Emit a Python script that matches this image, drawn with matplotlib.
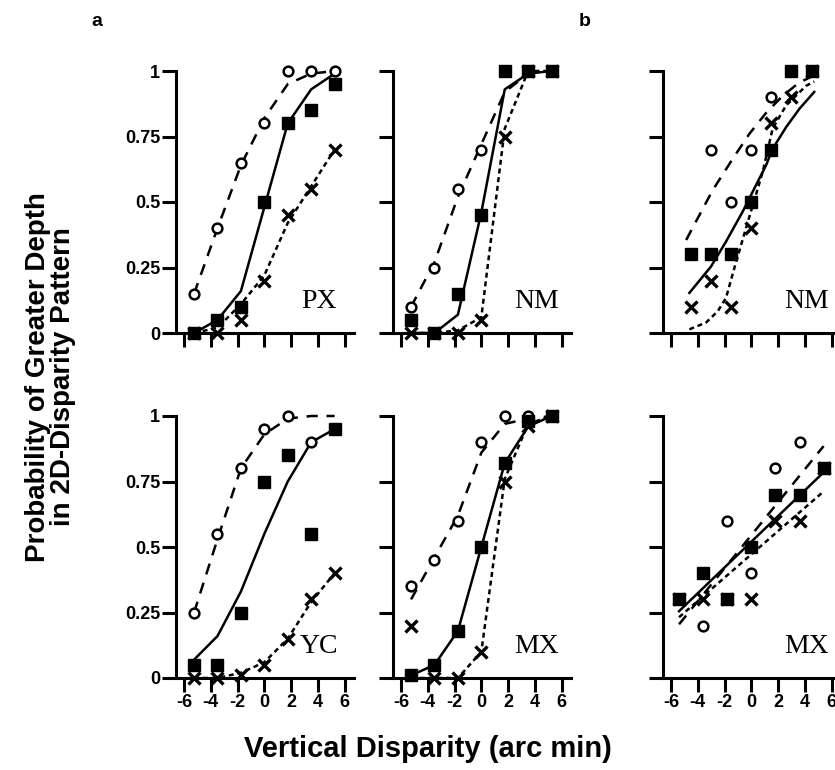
import matplotlib
matplotlib.use("Agg")
import matplotlib.pyplot as plt

plt.rcParams['font.family'] = ['Liberation Sans', 'DejaVu Sans']
plt.rcParams['axes.unicode_minus'] = False

# disparity levels (arc min)
x_a = [-5.25, -3.5, -1.75, 0, 1.75, 3.5, 5.25]
x_b_top = [-4.5, -3, -1.5, 0, 1.5, 3, 4.5]
x_b_bot = [-5.4, -3.6, -1.8, 0, 1.8, 3.6, 5.4]
x_ticks = [-6, -4, -2, 0, 2, 4, 6]
y_ticks = [0, 0.25, 0.5, 0.75, 1]
y_ticklabels = ['0', '0.25', '0.5', '0.75', '1']

# a / PX
px_circles = [0.15, 0.40, 0.65, 0.80, 1.0, 1.0, 1.0]
px_squares = [0.0, 0.05, 0.10, 0.50, 0.80, 0.85, 0.95]
px_crosses = [0.0, 0.0, 0.05, 0.20, 0.45, 0.55, 0.70]
px_fit_circles = [0.15, 0.40, 0.64, 0.82, 0.95, 0.99, 1.0]
px_fit_squares = [0.0, 0.05, 0.16, 0.48, 0.80, 0.93, 0.99]
px_fit_crosses = [0.0, 0.02, 0.11, 0.22, 0.42, 0.56, 0.70]

# a / NM
nma_circles = [0.10, 0.25, 0.55, 0.70, 1.0, 1.0, 1.0]
nma_squares = [0.05, 0.0, 0.15, 0.45, 1.0, 1.0, 1.0]
nma_crosses = [0.0, 0.0, 0.0, 0.05, 0.75, 1.0, 1.0]
nma_fit_circles = [0.10, 0.27, 0.52, 0.72, 0.92, 0.99, 1.0]
nma_fit_squares = [0.0, 0.0, 0.07, 0.46, 0.93, 0.99, 1.0]
nma_fit_crosses = [0.0, 0.0, 0.01, 0.06, 0.78, 1.0, 1.0]

# a / YC
yc_circles = [0.25, 0.55, 0.80, 0.95, 1.0, 0.90, 0.95]
yc_squares = [0.05, 0.05, 0.25, 0.75, 0.85, 0.55, 0.95]
yc_crosses = [0.0, 0.0, 0.01, 0.05, 0.15, 0.30, 0.40]
yc_fit_circles = [0.25, 0.53, 0.80, 0.93, 0.99, 1.0, 1.0]
yc_fit_squares = [0.07, 0.16, 0.33, 0.55, 0.75, 0.90, 0.95]
yc_fit_crosses = [0.0, 0.0, 0.02, 0.06, 0.15, 0.29, 0.40]

# a / MX
mxa_circles = [0.35, 0.45, 0.60, 0.90, 1.0, 1.0, 1.0]
mxa_squares = [0.01, 0.05, 0.18, 0.50, 0.82, 0.98, 1.0]
mxa_crosses = [0.20, 0.0, 0.0, 0.10, 0.75, 0.96, 1.0]
mxa_fit_circles = [0.30, 0.46, 0.62, 0.86, 0.97, 0.99, 1.0]
mxa_fit_squares = [0.01, 0.05, 0.18, 0.50, 0.82, 0.96, 1.0]
mxa_fit_crosses = [0.0, 0.0, 0.0, 0.10, 0.76, 0.97, 1.0]

# b / NM
nmb_circles = [0.30, 0.70, 0.50, 0.70, 0.90, 1.0, 1.0]
nmb_squares = [0.30, 0.30, 0.30, 0.50, 0.70, 1.0, 1.0]
nmb_crosses = [0.10, 0.20, 0.10, 0.40, 0.80, 0.90, 1.0]
nmb_fit_circles_x = [-4.87, -2.89, -1.39, -0.15, 1.1, 2.34, 3.58, 4.57]
nmb_fit_circles = [0.355, 0.545, 0.665, 0.76, 0.84, 0.905, 0.956, 0.98]
nmb_fit_squares_x = [-4.63, -3.01, -1.89, -0.65, 0.1, 1.1, 1.59, 2.59, 3.58, 4.7]
nmb_fit_squares = [0.153, 0.254, 0.349, 0.463, 0.539, 0.64, 0.703, 0.785, 0.855, 0.92]
nmb_fit_crosses_x = [-4.63, -3.38, -2.51, -1.89, -1.27, -0.4, 0.85, 1.59, 2.59, 4.08, 4.7]
nmb_fit_crosses = [0.014, 0.04, 0.083, 0.134, 0.248, 0.40, 0.615, 0.78, 0.868, 0.943, 0.96]

# b / MX
mxb_circles = [0.30, 0.20, 0.60, 0.40, 0.80, 0.90, 0.80]
mxb_squares = [0.30, 0.40, 0.30, 0.50, 0.70, 0.70, 0.80]
mxb_crosses = [0.30, 0.30, 0.30, 0.30, 0.60, 0.60, 0.80]
mxb_fit_x = [-5.4, 5.4]
mxb_fit_circles = [0.205, 0.885]
mxb_fit_squares = [0.255, 0.785]
mxb_fit_crosses = [0.232, 0.712]

panels = [
    # left, bottom, label, x, circles, squares, crosses, fits
    (176, 333, 'PX', x_a, px_circles, px_squares, px_crosses,
     (x_a, px_fit_circles), (x_a, px_fit_squares), (x_a, px_fit_crosses)),
    (393, 333, 'NM', x_a, nma_circles, nma_squares, nma_crosses,
     (x_a, nma_fit_circles), (x_a, nma_fit_squares), (x_a, nma_fit_crosses)),
    (663, 333, 'NM', x_b_top, nmb_circles, nmb_squares, nmb_crosses,
     (nmb_fit_circles_x, nmb_fit_circles), (nmb_fit_squares_x, nmb_fit_squares),
     (nmb_fit_crosses_x, nmb_fit_crosses)),
    (176, 678, 'YC', x_a, yc_circles, yc_squares, yc_crosses,
     (x_a, yc_fit_circles), (x_a, yc_fit_squares), (x_a, yc_fit_crosses)),
    (393, 678, 'MX', x_a, mxa_circles, mxa_squares, mxa_crosses,
     (x_a, mxa_fit_circles), (x_a, mxa_fit_squares), (x_a, mxa_fit_crosses)),
    (663, 678, 'MX', x_b_bot, mxb_circles, mxb_squares, mxb_crosses,
     (mxb_fit_x, mxb_fit_circles), (mxb_fit_x, mxb_fit_squares),
     (mxb_fit_x, mxb_fit_crosses)),
]

W, H = 835, 770
fig = plt.figure(figsize=(W / 100, H / 100), dpi=100)

LW = 1.8
for i, (lx, by, name, xs, circ, sq, cr, fc, fs, fx) in enumerate(panels):
    ax = fig.add_axes([lx / W, (H - by) / H, 178 / W, 262 / H])
    ax.set_xlim(-6.6, 6.7)
    ax.set_ylim(0, 1)
    ax.plot(fc[0], fc[1], color='black', lw=LW, dashes=(4.5, 3.5), clip_on=False, zorder=2)
    ax.plot(fs[0], fs[1], color='black', lw=LW, clip_on=False, zorder=2)
    ax.plot(fx[0], fx[1], color='black', lw=LW, dashes=(2.0, 1.5), clip_on=False, zorder=2)
    ax.plot(xs, circ, 'o', ms=7, mfc='white', mec='black', mew=1.8, clip_on=False, zorder=3)
    ax.plot(xs, cr, 'x', ms=8, color='black', mew=2.4, clip_on=False, zorder=4)
    ax.plot(xs, sq, 's', ms=9, color='black', clip_on=False, zorder=5)
    ax.text(4.1, 0.12, name, family=['Liberation Serif', 'DejaVu Serif'],
            fontsize=20, ha='center', va='center', zorder=6)

    for s in ['top', 'right']:
        ax.spines[s].set_visible(False)
    for s in ['left', 'bottom']:
        ax.spines[s].set_linewidth(2.2)
    ax.set_xticks(x_ticks)
    ax.set_yticks(y_ticks)
    ax.tick_params(length=10, width=2.2, pad=1.5, labelsize=13)
    if i < 3:
        ax.set_xticklabels([])
    else:
        ax.set_xticklabels([str(t) for t in x_ticks], fontweight='bold')
    if i in (0, 3):
        ax.set_yticklabels(y_ticklabels, fontweight='bold')
    else:
        ax.set_yticklabels([])

fig.text(97 / W, 1 - 22 / H, 'a', fontsize=14, fontweight='bold', ha='center', va='center')
fig.text(585 / W, 1 - 22 / H, 'b', fontsize=14, fontweight='bold', ha='center', va='center')
fig.text(51 / W, 1 - 377 / H, 'Probability of Greater Depth\nin 2D-Disparity Pattern',
         fontsize=20, fontweight='bold', rotation=90, ha='center', va='center',
         linespacing=0.95)
fig.text(428 / W, 1 - 749 / H, 'Vertical Disparity (arc min)', fontsize=21,
         fontweight='bold', ha='center', va='center')

fig.savefig('out.png', dpi=100)
